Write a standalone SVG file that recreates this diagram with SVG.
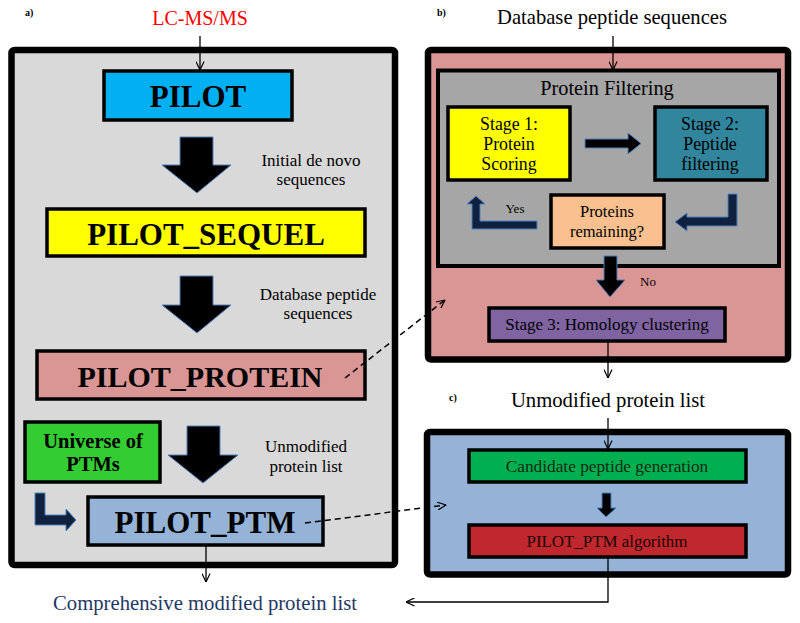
<svg xmlns="http://www.w3.org/2000/svg" width="800" height="623" viewBox="0 0 800 623">
<defs>
<marker id="v" viewBox="0 0 10 10" refX="9.5" refY="5" markerWidth="9" markerHeight="9" markerUnits="userSpaceOnUse" orient="auto"><path d="M0,0.5 L9.5,5 L0,9.5" fill="none" stroke="#000" stroke-width="1.3"/></marker>
</defs>
<style>
.t{font-family:"Liberation Serif","Times New Roman",serif;text-anchor:middle;fill:#000}
.big{font-size:31px;font-weight:bold}
.box{stroke:#000;stroke-width:3.5}
.panel{stroke:#000;stroke-width:6.5}
.blk{fill:#000;stroke:#4f81bd;stroke-width:1}
.ln{fill:none;stroke:#000;stroke-width:1.3}
.dash{fill:none;stroke:#000;stroke-width:1.5;stroke-dasharray:6,4}
.lab{font-family:"Liberation Serif",serif;font-size:10px;font-weight:bold}
</style>
<rect width="800" height="623" fill="#fff"/>

<g id="panelA">
<rect class="panel" x="11.5" y="50" width="383.5" height="515" rx="3" fill="#d9d9d9"/>
<text class="lab" x="25" y="16">a)</text>
</g>
<g id="panelB">
<rect class="panel" x="428" y="50" width="360" height="309.5" rx="3" fill="#da9694"/>
<rect x="438" y="70.5" width="341" height="195.5" fill="#a6a6a6" stroke="#000" stroke-width="4"/>
<text class="lab" x="437" y="16">b)</text>
<text class="t" x="607" y="95" font-size="20.3">Protein Filtering</text>
</g>
<g id="panelC">
<rect class="panel" x="427" y="432" width="361" height="142.5" rx="3" fill="#95b3d7"/>
<text class="lab" x="449" y="401">c)</text>
</g>

<g id="lcms"><text class="t" x="200" y="25" font-size="20" style="fill:#ff0000">LC-MS/MS</text></g>
<g id="pilot"><rect class="box" x="104" y="71" width="188" height="49" fill="#00b0f0"/><text class="t big" x="198" y="107">PILOT</text></g>
<g id="sequel"><rect class="box" x="47" y="209" width="318" height="47" fill="#ffff00"/><text class="t big" x="206" y="245">PILOT_SEQUEL</text></g>
<g id="protein"><rect class="box" x="37" y="351" width="328" height="48" fill="#da9694"/><text class="t big" x="200" y="387" style="font-size:30px">PILOT_PROTEIN</text></g>
<g id="universe"><rect class="box" x="25" y="422" width="135" height="60" fill="#33cc33"/><text class="t" x="93" y="448" font-size="20.5" font-weight="bold">Universe of</text><text class="t" x="93" y="471" font-size="20.5" font-weight="bold">PTMs</text></g>
<g id="ptm"><rect class="box" x="88" y="497" width="235" height="48" fill="#95b3d7"/><text class="t big" x="205" y="533">PILOT_PTM</text></g>
<g id="comprehensive"><text class="t" x="205" y="610" font-size="20.7" style="fill:#1f3864">Comprehensive modified protein list</text></g>

<g id="labelsA">
<text class="t" x="311" y="166" font-size="17">Initial de novo</text>
<text class="t" x="311" y="185" font-size="17">sequences</text>
<text class="t" x="318" y="300" font-size="17">Database peptide</text>
<text class="t" x="318" y="319" font-size="17">sequences</text>
<text class="t" x="306" y="452" font-size="17">Unmodified</text>
<text class="t" x="306" y="472" font-size="17">protein list</text>
</g>

<g id="dbseq"><text class="t" x="612" y="24" font-size="20.6">Database peptide sequences</text></g>
<g id="stage1"><rect class="box" x="448" y="107" width="122" height="73" fill="#ffff00"/><text class="t" x="509" y="130" font-size="17.8">Stage 1:</text><text class="t" x="509" y="150" font-size="17.8">Protein</text><text class="t" x="509" y="170" font-size="17.8">Scoring</text></g>
<g id="stage2"><rect class="box" x="655" y="107" width="112" height="73" fill="#31859c"/><text class="t" x="710" y="130" font-size="17.8">Stage 2:</text><text class="t" x="710" y="150" font-size="17.8">Peptide</text><text class="t" x="710" y="170" font-size="17.8">filtering</text></g>
<g id="remaining"><rect class="box" x="551" y="195" width="113" height="53" fill="#fac090"/><text class="t" x="607" y="217" font-size="16.5">Proteins</text><text class="t" x="607" y="237" font-size="16.5">remaining?</text></g>
<g id="stage3"><rect class="box" x="489" y="308" width="236" height="33" fill="#8064a2"/><text class="t" x="607" y="330" font-size="17">Stage 3: Homology clustering</text></g>
<g id="labelsB">
<text class="t" x="515" y="213" font-size="13">Yes</text>
<text class="t" x="648" y="286" font-size="13">No</text>
</g>

<g id="unmod"><text class="t" x="608" y="407" font-size="20.7">Unmodified protein list</text></g>
<g id="candidate"><rect class="box" x="469" y="450" width="277" height="32" fill="#00b050"/><text class="t" x="607" y="472" font-size="17.3" style="fill:#0d2a14">Candidate peptide generation</text></g>
<g id="algorithm"><rect class="box" x="469" y="525" width="277" height="32" fill="#c0282d"/><text class="t" x="607" y="547" font-size="16.9" style="fill:#1a0606">PILOT_PTM algorithm</text></g>

<g id="connectors">
<polygon class="blk" points="180,137 213,137 213,165 231,165 197,193 162,165 180,165"/>
<polygon class="blk" points="180,276 213,276 213,305 231,305 197,333 162,305 180,305"/>
<polygon class="blk" points="187,426 220,426 220,455 238,455 203,483 168,455 187,455"/>
<polygon points="35,493 45,493 45,515 66,515 66,509 76,520 66,531 66,525 35,525" fill="#10213f" stroke="#4f81bd" stroke-width="1"/>
<polygon class="blk" points="585,139 628,139 628,133 641,143.5 628,154 628,148 585,148"/>
<polygon points="728,194 737,194 737,226 687,226 687,231 675,222 687,213 687,217 728,217" fill="#10213f" stroke="#4f81bd" stroke-width="1"/>
<polygon points="537,221 537,229 472,229 472,204 467,204 476,196 485,204 480,204 480,221" fill="#10213f" stroke="#4f81bd" stroke-width="1"/>
<polygon class="blk" points="604,256 617,256 617,280 625,280 610,297 596,280 604,280"/>
<polygon class="blk" points="602,493 611,493 611,508 616,508 606,517 597,508 602,508"/>
<line class="ln" x1="200" y1="36" x2="200" y2="70" marker-end="url(#v)"/>
<line class="ln" x1="613" y1="36" x2="613" y2="70" marker-end="url(#v)"/>
<line class="ln" x1="608" y1="341" x2="608" y2="378" marker-end="url(#v)"/>
<line class="ln" x1="608" y1="418" x2="608" y2="449" marker-end="url(#v)"/>
<line class="ln" x1="206" y1="545" x2="206" y2="582" marker-end="url(#v)"/>
<polyline class="ln" points="608,557 608,602 406,602" marker-end="url(#v)"/>
<line class="dash" x1="345" y1="378" x2="445" y2="300" marker-end="url(#v)"/>
<line class="dash" x1="305" y1="523" x2="446" y2="505" marker-end="url(#v)"/>
</g>
</svg>
